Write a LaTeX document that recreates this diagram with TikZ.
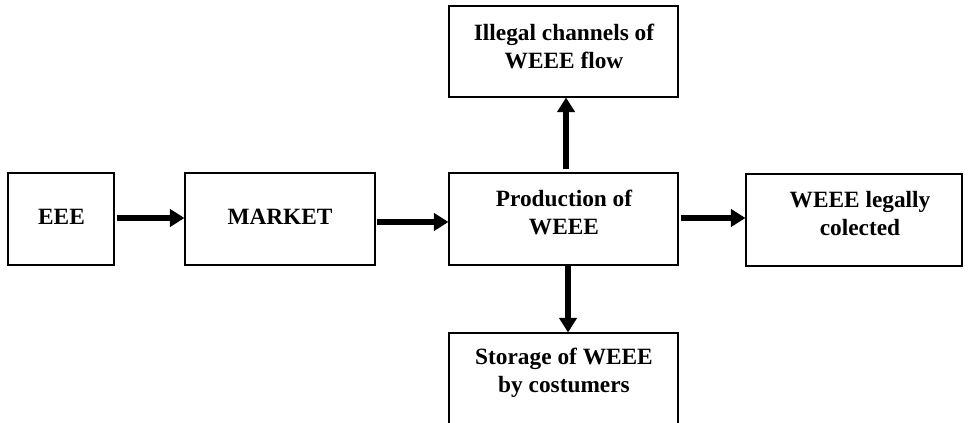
\documentclass[tikz,border=0pt]{standalone}
\usepackage{fontspec}
\setmainfont{Liberation Serif}
\usetikzlibrary{arrows.meta}
\begin{document}
\begin{tikzpicture}[x=0.75pt,y=-0.75pt,
  box/.style={draw=black,line width=0.8pt,rectangle,inner sep=0pt,minimum height=69pt},
  lbl/.style={font=\bfseries\fontsize{17.5}{21}\selectfont,align=center,inner sep=0pt},
  flow/.style={line width=4.2pt,-{Triangle[length=11pt,width=13pt]}}]
\useasboundingbox (0,0) rectangle (978,423);
\clip (0,0) rectangle (978,423);
\fill[white] (0,0) rectangle (978,423);
% boxes
\node[box,minimum width=79.5pt] (eee) at (61,219) {};
\node[box,minimum width=142.5pt] (market) at (280,219) {};
\node[box,minimum width=171.75pt] (prod) at (563.5,219) {};
\node[box,minimum width=171.75pt,minimum height=68.25pt] (illegal) at (563.5,51.5) {};
\node[box,minimum width=171.75pt,minimum height=72.75pt] (storage) at (563.5,381.5) {};
\node[box,minimum width=162pt] (legal) at (854,220) {};
% labels
\node[lbl] (teee) at (61.5,217) {EEE};
\node[lbl] (tmarket) at (280,217) {MARKET};
\node[lbl] (tprod) at (564,212.5) {Production of\\WEEE};
\node[lbl] (tillegal) at (564,46) {Illegal channels of\\WEEE flow};
\node[lbl] (tstorage) at (564,372.5) {Storage of WEEE\\by costumers};
\node[lbl] (tlegal) at (860,214) {WEEE legally\\colected};
% arrows
\draw[flow] ([xshift=1.5pt,yshift=0.75pt]eee.east) -- ([yshift=0.75pt]market.west);
\draw[flow] ([xshift=0.75pt,yshift=-2.25pt]market.east) -- ([yshift=-2.25pt]prod.west);
\draw[flow] ([xshift=1.5pt,yshift=0.75pt]prod.east) -- ([yshift=1.5pt]legal.west);
\draw[flow] ([xshift=1.9pt,yshift=2.25pt]prod.north) -- ([xshift=1.9pt]illegal.south);
\draw[flow] ([xshift=3.4pt]prod.south) -- ([xshift=3.4pt]storage.north);
\end{tikzpicture}
\end{document}
